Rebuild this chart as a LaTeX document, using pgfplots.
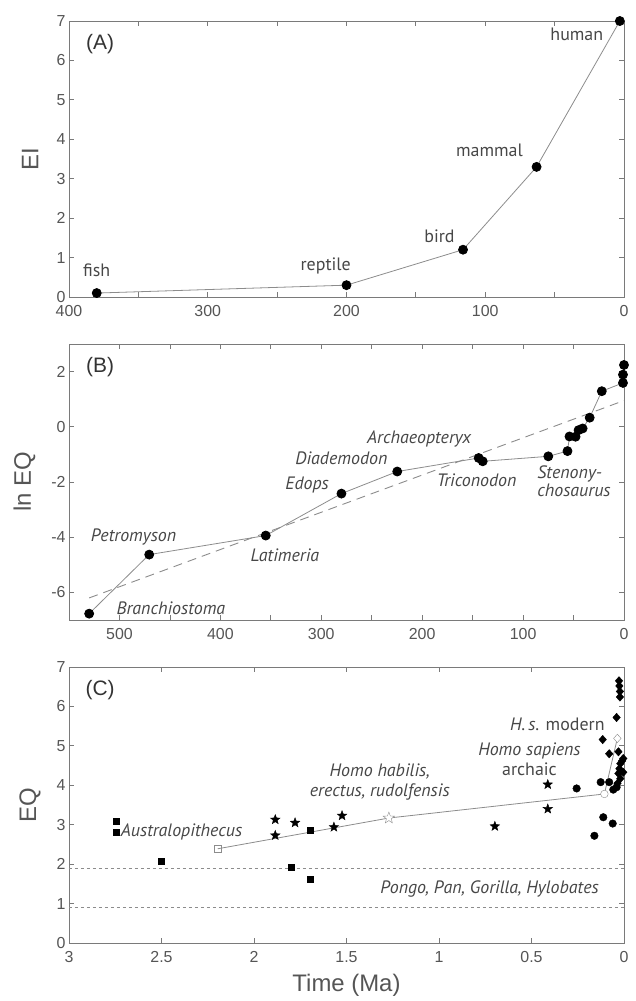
\documentclass[border=0pt]{standalone}
\usepackage{fontspec}
\setmainfont{Liberation Sans}
\newfontfamily\annot{PT Sans}
\usepackage{pgfplots}
\pgfplotsset{compat=1.18}

\definecolor{axgray}{HTML}{7A7A7A}
\definecolor{tickgray}{HTML}{555555}
\definecolor{txtgray}{HTML}{474747}
\definecolor{linegray}{HTML}{8C8C8C}

% filled five-point star
\pgfdeclareplotmark{fstar}{%
  \pgfpathmoveto{\pgfpointpolar{90}{\pgfplotmarksize}}%
  \pgfpathlineto{\pgfpointpolar{126}{0.42\pgfplotmarksize}}%
  \pgfpathlineto{\pgfpointpolar{162}{\pgfplotmarksize}}%
  \pgfpathlineto{\pgfpointpolar{198}{0.42\pgfplotmarksize}}%
  \pgfpathlineto{\pgfpointpolar{234}{\pgfplotmarksize}}%
  \pgfpathlineto{\pgfpointpolar{270}{0.42\pgfplotmarksize}}%
  \pgfpathlineto{\pgfpointpolar{306}{\pgfplotmarksize}}%
  \pgfpathlineto{\pgfpointpolar{342}{0.42\pgfplotmarksize}}%
  \pgfpathlineto{\pgfpointpolar{18}{\pgfplotmarksize}}%
  \pgfpathlineto{\pgfpointpolar{54}{0.42\pgfplotmarksize}}%
  \pgfpathclose
  \pgfusepathqfillstroke}

\pgfplotsset{
  panel/.style={
    scale only axis, width=555bp, height=276bp,
    x dir=reverse, clip=false,
    axis line style={axgray, line width=0.9bp},
    tick style={axgray, line width=0.8bp},
    tick align=inside,
    xtick pos=both, ytick pos=both,
    xticklabel pos=lower, yticklabel pos=left,
    major tick length=5bp, minor tick length=5bp,
    ticklabel style={font=\fontsize{16}{18}\selectfont, text=tickgray},
    xticklabel style={yshift=-5bp},
    /pgf/number format/assume math mode=true,
    label style={font=\fontsize{24}{28}\selectfont, text=tickgray},
    ylabel style={at={(axis description cs:-0.07,0.5)}, anchor=center},
  },
}
\tikzset{
  lbl/.style={font=\annot\fontsize{18}{21}\selectfont, text=txtgray},
  ilbl/.style={font=\annot\itshape\fontsize{18}{21}\selectfont, text=txtgray},
  tag/.style={font=\fontsize{21}{24}\selectfont, text=black!80},
}

\begin{document}
\begin{tikzpicture}
\path[use as bounding box] (0,0) rectangle (636bp,-1001bp);

% ---------- (A)
\begin{axis}[panel, at={(69bp,-297bp)}, anchor=south west,
    xmin=0, xmax=400, ymin=0, ymax=7,
    xtick={0,100,...,400}, minor xtick={50,150,250,350},
    ytick={0,1,...,7},
    ylabel={EI}]
\addplot[linegray, line width=0.8bp, mark=*, mark size=4.5bp,
    mark options={black, fill=black}] coordinates {
    (380,0.1) (200,0.3) (116,1.2) (63,3.3) (3,7.0)
};
\node[tag] at (rel axis cs:0.056,0.918) {(A)};
\node[lbl] at (axis cs:380,0.68) {fish};
\node[lbl] at (axis cs:215,0.79) {reptile};
\node[lbl] at (axis cs:133,1.55) {bird};
\node[lbl] at (axis cs:97,3.72) {mammal};
\node[lbl] at (axis cs:34,6.66) {human};
\end{axis}

% ---------- (B)
\begin{axis}[panel, at={(69bp,-620bp)}, anchor=south west,
    xmin=0, xmax=550, ymin=-7, ymax=3,
    xtick={0,100,...,500}, minor xtick={50,150,...,550},
    ytick={-6,-4,...,2},
    ylabel={ln EQ},
    ylabel style={at={(axis description cs:-0.08,0.5)}}]
\addplot[linegray, line width=0.9bp, dash pattern=on 9bp off 6bp] coordinates {
    (530,-6.2) (0,0.95)
};
\addplot[linegray, line width=0.8bp, mark=*, mark size=4.5bp,
    mark options={black, fill=black}] coordinates {
    (530,-6.77) (470.5,-4.63) (355,-3.94) (280,-2.42) (224.7,-1.62)
    (144,-1.13) (140,-1.25) (75,-1.07) (56,-0.88) (54,-0.35)
    (48,-0.36) (45,-0.12) (41,-0.06) (34,0.33) (22,1.29)
    (1,1.59) (1,1.89) (0,2.24)
};
\node[tag] at (rel axis cs:0.056,0.918) {(B)};
\node[ilbl] at (axis cs:486,-4.0) {Petromyson};
\node[ilbl] at (axis cs:449,-6.58) {Branchiostoma};
\node[ilbl] at (axis cs:336,-4.64) {Latimeria};
\node[ilbl] at (axis cs:314,-2.12) {Edops};
\node[ilbl] at (axis cs:280,-1.13) {Diademodon};
\node[ilbl] at (axis cs:203,-0.45) {Archaeopteryx};
\node[ilbl] at (axis cs:146,-1.93) {Triconodon};
\node[ilbl, anchor=west, align=left, inner sep=0pt] at (axis cs:86,-1.97)
    {Stenony-\\[-3bp]chosaurus};
\end{axis}

% ---------- (C)
\begin{axis}[panel, at={(69bp,-943bp)}, anchor=south west,
    xmin=0, xmax=3, ymin=0, ymax=7,
    xtick={0,0.5,...,3}, ytick={0,1,...,7},
    ylabel={EQ}, xlabel={Time (Ma)},
    xlabel style={at={(axis description cs:0.5,-0.152)}, anchor=center}]
\addplot[linegray, line width=0.8bp, dash pattern=on 3bp off 3bp] coordinates {(3,1.9) (0,1.9)};
\addplot[linegray, line width=0.8bp, dash pattern=on 3bp off 3bp] coordinates {(3,0.9) (0,0.9)};
% mean line
\addplot[linegray, line width=0.8bp] coordinates {
    (2.196,2.39) (1.271,3.17) (0.106,3.78) (0.036,5.19)
};
% Australopithecus
\addplot[only marks, mark=square*, mark size=3bp, mark options={black, fill=black}] coordinates {
    (2.747,3.09) (2.747,2.82) (2.5,2.07) (1.696,2.86) (1.8,1.92) (1.696,1.61)
};
% Homo habilis, erectus, rudolfensis
\addplot[only marks, mark=fstar, mark size=5bp, mark options={black, fill=black}] coordinates {
    (1.885,3.13) (1.885,2.73) (1.778,3.05) (1.568,2.94) (1.524,3.23)
    (0.698,2.96) (0.412,4.02) (0.412,3.40)
};
% Homo sapiens archaic
\addplot[only marks, mark=*, mark size=3.8bp, mark options={black, fill=black}] coordinates {
    (0.256,3.92) (0.126,4.08) (0.080,4.08) (0.058,3.89) (0.112,3.19)
    (0.061,3.03) (0.160,2.72) (0.040,3.95)
};
% H. s. modern
\addplot[only marks, mark=diamond*, mark size=4bp, mark options={black, fill=black, xscale=1.25, yscale=1.05}] coordinates {
    (0.027,6.65) (0.025,6.52) (0.022,6.38) (0.022,6.24) (0.040,5.72)
    (0.115,5.16) (0.080,4.80) (0.030,4.85) (0.004,4.68) (0.020,4.55)
    (0.025,4.42) (0.004,4.33) (0.030,4.30) (0.020,4.17) (0.035,4.05)
    (0.010,4.62)
};
% group means (open)
\addplot[only marks, mark=square, mark size=3.2bp, mark options={linegray, fill=white}] coordinates {(2.196,2.39)};
\addplot[only marks, mark=fstar, mark size=6bp, mark options={linegray, fill=white}] coordinates {(1.271,3.17)};
\addplot[only marks, mark=*, mark size=3.8bp, mark options={linegray, fill=white}] coordinates {(0.106,3.78)};
\addplot[only marks, mark=diamond*, mark size=4bp, mark options={linegray, fill=white, xscale=1.25, yscale=1.05}] coordinates {(0.036,5.19)};

\node[tag] at (rel axis cs:0.056,0.918) {(C)};
\node[ilbl, anchor=west, inner sep=0pt] at (axis cs:2.72,2.83) {Australopithecus};
\node[ilbl, align=center] at (axis cs:1.32,4.09)
    {Homo habilis,\\[-1bp]erectus, rudolfensis};
\node[lbl, align=center] at (axis cs:0.511,4.66) {\itshape Homo sapiens\\[-1bp]archaic};
\node[lbl] at (axis cs:0.36,5.54) {\itshape H.\,s.\upshape{} modern};
\node[ilbl] at (axis cs:0.727,1.37) {Pongo, Pan, Gorilla, Hylobates};
\end{axis}
\end{tikzpicture}
\end{document}
